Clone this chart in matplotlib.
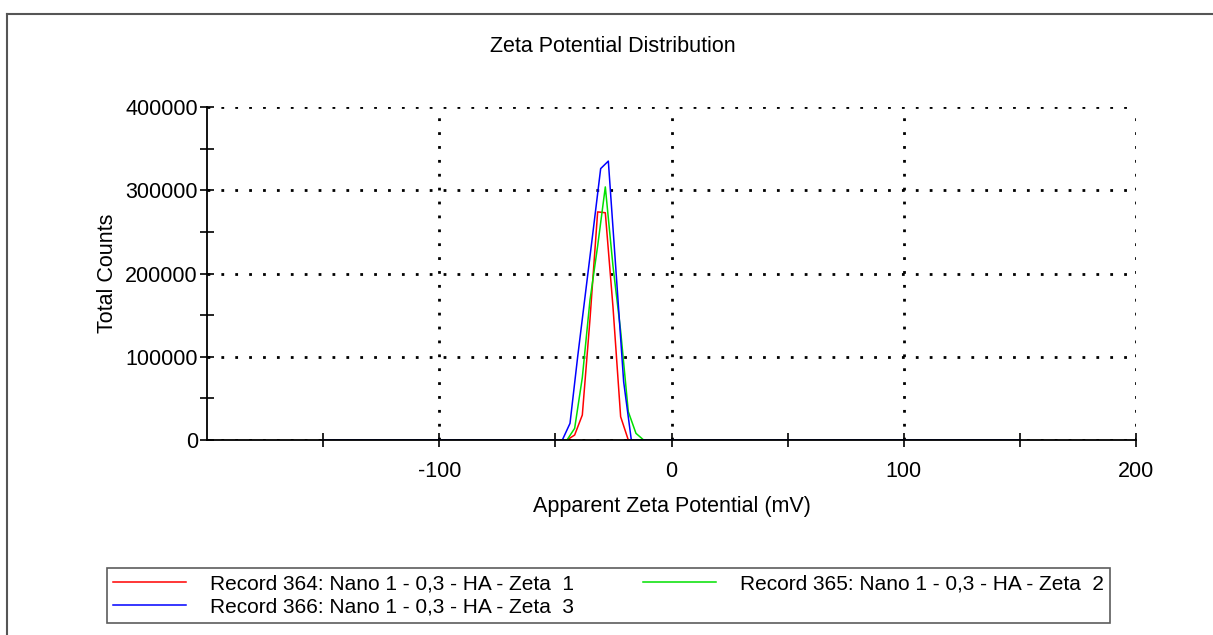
import matplotlib
matplotlib.use("Agg")
import matplotlib.pyplot as plt
from matplotlib.lines import Line2D
from matplotlib.ticker import MultipleLocator, FixedLocator

plt.rcParams['font.family'] = ['Liberation Sans', 'DejaVu Sans']

# Data (mV, counts)
x_364 = [-150, -45.0, -41.7, -38.4, -35.1, -31.8, -28.5, -25.2, -21.9, -18.6, 150]
y_364 = [0, 0, 6000, 30000, 145000, 274000, 273000, 160000, 28000, 0, 0]

x_365 = [-150, -45.0, -41.7, -38.4, -35.1, -31.8, -28.5, -25.2, -21.9, -18.6, -15.3, -12.0, 150]
y_365 = [0, 0, 14000, 75000, 168000, 233000, 304000, 209000, 131000, 34000, 8000, 0, 0]

x_366 = [-150, -47.0, -43.7, -40.4, -37.1, -33.8, -30.5, -27.2, -23.9, -20.6, -17.3, 150]
y_366 = [0, 0, 20000, 100000, 175000, 250000, 326000, 335000, 203000, 70000, 0, 0]

labels = ["Record 364: Nano 1 - 0,3 - HA - Zeta  1",
          "Record 365: Nano 1 - 0,3 - HA - Zeta  2",
          "Record 366: Nano 1 - 0,3 - HA - Zeta  3"]

xticks_major = [-100, 0, 100, 200]
xticks_minor = [-150, -50, 50, 150]
yticks_major = [0, 100000, 200000, 300000, 400000]

W, H = 1213, 635
fig = plt.figure(figsize=(W / 100, H / 100), dpi=100)
ax = fig.add_axes([207 / W, 1 - 440 / H, (1136 - 207) / W, (440 - 107) / H])

l1, = ax.plot(x_364, y_364, color='#ff0000', lw=1.1, label=labels[0], zorder=3)
l2, = ax.plot(x_365, y_365, color='#00e000', lw=1.1, label=labels[1], zorder=3)
l3, = ax.plot(x_366, y_366, color='#0000ff', lw=1.1, label=labels[2], zorder=3)

ax.set_xlim(-200, 200)
ax.set_ylim(0, 400000)
ax.xaxis.set_major_locator(FixedLocator(xticks_major))
ax.xaxis.set_minor_locator(FixedLocator(xticks_minor))
ax.yaxis.set_major_locator(FixedLocator(yticks_major))
ax.yaxis.set_minor_locator(MultipleLocator(50000))
ax.set_xticklabels([str(v) for v in xticks_major])
ax.set_yticklabels([str(v) for v in yticks_major])

ax.grid(True, which='major', color='black', linestyle=(0, (1, 4)), linewidth=2)
for s in ['top', 'right']:
    ax.spines[s].set_visible(False)
for s in ['left', 'bottom']:
    ax.spines[s].set_linewidth(1.3)
    ax.spines[s].set_zorder(4)

ax.tick_params(axis='both', which='both', direction='inout', length=10, width=1.2,
               labelsize=15.5, colors='black')
ax.tick_params(axis='x', which='major', pad=10)
ax.tick_params(axis='y', which='major', pad=1.5)

ax.set_xlabel("Apparent Zeta Potential (mV)", fontsize=15.5, labelpad=10)
ax.set_ylabel("Total Counts", fontsize=15.5, labelpad=5)
fig.text(613 / W, 1 - 47 / H, "Zeta Potential Distribution", ha='center', va='center', fontsize=15.5)

leg = fig.legend(handles=[l1, l3, l2], labels=[labels[0], labels[2], labels[1]], ncol=2,
                 loc='upper left', bbox_to_anchor=(107 / W, 1 - 568 / H),
                 fontsize=15, frameon=True, fancybox=False, shadow=False,
                 handlelength=3.5, handletextpad=1.15, columnspacing=3.3,
                 borderpad=0.3, labelspacing=0.2, borderaxespad=0)
leg.get_frame().set_edgecolor('#333333')
leg.get_frame().set_linewidth(1.2)

# outer figure border (top and left)
fig.add_artist(Line2D([7 / W, 1.0], [1 - 14 / H, 1 - 14 / H], color='#555555', lw=1.5,
                      transform=fig.transFigure))
fig.add_artist(Line2D([7 / W, 7 / W], [1 - 14 / H, 0], color='#555555', lw=1.5,
                      transform=fig.transFigure))

fig.savefig("out.png", dpi=100)
